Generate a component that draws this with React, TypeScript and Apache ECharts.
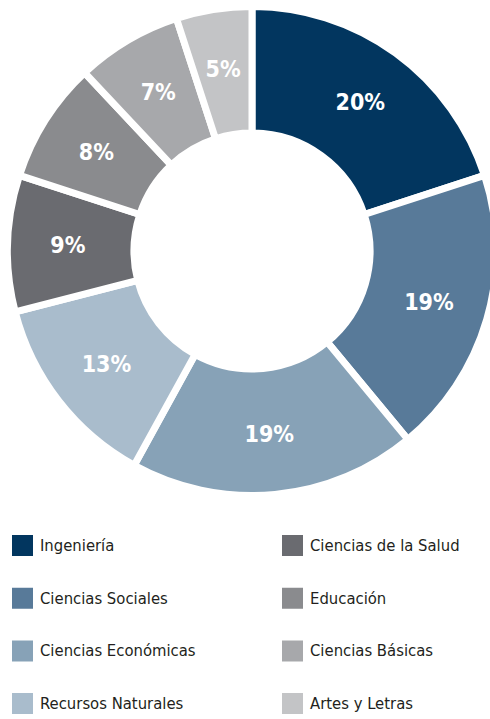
import React, { useEffect, useRef } from "react";
import * as echarts from "echarts";

const categories = [
  "Ingeniería",
  "Ciencias Sociales",
  "Ciencias Económicas",
  "Recursos Naturales",
  "Ciencias de la Salud",
  "Educación",
  "Ciencias Básicas",
  "Artes y Letras",
];
const values = [20, 19, 19, 13, 9, 8, 7, 5];
const colors = [
  "#02365f",
  "#587a99",
  "#87a2b7",
  "#a9bccc",
  "#6a6b70",
  "#8a8b8e",
  "#a7a8ab",
  "#c3c4c6",
];
const leftLegend = categories.slice(0, 4);
const rightLegend = categories.slice(4);

const FONT = "'Liberation Sans Narrow', 'DejaVu Sans Condensed', 'Roboto', sans-serif";

export default function App() {
  const ref = useRef<HTMLDivElement>(null);
  useEffect(() => {
    if (!ref.current) return;
    const chart = echarts.init(ref.current, null, { renderer: "svg" });
    const legendBase = {
      orient: "vertical" as const,
      top: 533,
      padding: 0,
      itemWidth: 23,
      itemHeight: 23,
      itemGap: 27.7,
      icon: "rect",
      textStyle: { fontFamily: FONT, fontSize: 16.5, color: "#231f20", padding: [0, 0, 0, 1] },
    };
    chart.setOption({
      animation: false,
      color: colors,
      legend: [
        { ...legendBase, left: 10, data: leftLegend },
        { ...legendBase, left: 280, data: rightLegend },
      ],
      series: [
        {
          type: "pie",
          center: [252, 251],
          radius: [118, 244.5],
          startAngle: 90,
          clockwise: true,
          avoidLabelOverlap: false,
          itemStyle: { borderColor: "#ffffff", borderWidth: 7 },
          label: {
            show: true,
            position: "inside",
            formatter: "{c}%",
            color: "#ffffff",
            fontFamily: FONT,
            fontWeight: "bold",
            fontSize: 23,
          },
          labelLine: { show: false },
          emphasis: { disabled: true },
          data: categories.map((name, i) => ({ name, value: values[i] })),
        },
      ],
    });
    return () => chart.dispose();
  }, []);
  return (
    <div
      ref={ref}
      style={{ position: "fixed", left: 0, top: 0, width: 490, height: 719, background: "#fff" }}
    />
  );
}
